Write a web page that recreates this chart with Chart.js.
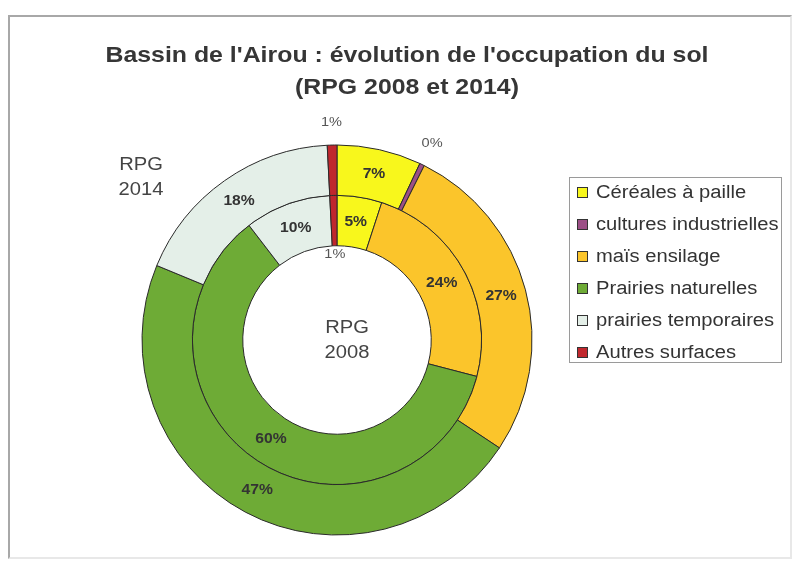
<!DOCTYPE html>
<html>
<head>
<meta charset="utf-8">
<script src="https://cdn.jsdelivr.net/npm/chart.js@4"></script>
<style>
  body { margin: 0; background: #fff; }
  #wrap { position: relative; width: 797px; height: 561px; overflow: hidden; font-family: "Liberation Sans", Arial, sans-serif; color: #333; }
  #frame { position: absolute; left: 8px; top: 15px; width: 780px; height: 540px; border: 2px solid #a8a8a8; border-right-color: #e8e8e8; border-bottom-color: #e8e8e8; }
  #chart { position: absolute; left: 0; top: 0; }
  .title { position: absolute; left: 107px; width: 600px; top: 39px; text-align: center; font-weight: bold; font-size: 22px; line-height: 32px; color: #363636; transform: scaleX(1.13); }
  .ring-name { position: absolute; width: 100px; text-align: center; font-size: 18px; line-height: 25px; color: #444; transform: scaleX(1.12); }
  #legend { position: absolute; left: 569px; top: 177px; width: 213px; height: 186px; border: 1px solid #9a9a9a; box-sizing: border-box; }
  #legend .rows { position: relative; top: -2px; }
  .lg-row { height: 32px; display: flex; align-items: center; padding-left: 7px; font-size: 18px; color: #333; white-space: nowrap; }
  .lg-box { width: 9px; height: 9px; border: 1px solid #333; margin-right: 8px; flex: none; }
  .lg-txt { display: inline-block; transform: scaleX(1.12); transform-origin: left center; }
</style>
</head>
<body>
<div id="wrap">
  <div id="frame"></div>
  <canvas id="chart" width="797" height="561"></canvas>
  <div class="title">Bassin de l'Airou : évolution de l'occupation du sol<br>(RPG 2008 et 2014)</div>
  <div class="ring-name" style="left:91px; top:152px;">RPG<br>2014</div>
  <div class="ring-name" style="left:297px; top:315px;">RPG<br>2008</div>
  <div id="legend"><div class="rows"></div></div>
</div>
<script>
const categories = ['Céréales à paille', 'cultures industrielles', 'maïs ensilage', 'Prairies naturelles', 'prairies temporaires', 'Autres surfaces'];
const values2014 = [7, 0.4, 27, 47, 18, 0.8];
const values2008 = [5, 0, 24, 60.4, 9.6, 0.8];
const colors = ['#f8f71c', '#9c4f86', '#fbc52b', '#6eab36', '#e4efe8', '#c0272d'];

// legend
const rowsEl = document.querySelector('#legend .rows');
categories.forEach((c, i) => {
  const row = document.createElement('div');
  row.className = 'lg-row';
  row.innerHTML = `<span class="lg-box" style="background:${colors[i]}"></span><span class="lg-txt">${c}</span>`;
  rowsEl.appendChild(row);
});

// percent labels on the rings (small slices go outside / into the hole)
const pctLabels = {
  id: 'pctLabels',
  afterDatasetsDraw(chart) {
    const ctx = chart.ctx;
    chart.data.datasets.forEach((ds, di) => {
      const meta = chart.getDatasetMeta(di);
      meta.data.forEach((arc, i) => {
        const v = ds.data[i];
        if (di === 1 && v === 0) return;
        const txt = Math.round(v) + '%';
        const a = (arc.startAngle + arc.endAngle) / 2;
        let r, font, col;
        if (v < 2) {
          r = di === 0 ? arc.outerRadius + 23 : arc.innerRadius - 9;
          font = '13px "Liberation Sans", Arial';
          col = '#555';
        } else {
          r = (arc.innerRadius + arc.outerRadius) / 2;
          font = 'bold 14px "Liberation Sans", Arial';
          col = '#333';
        }
        ctx.save();
        ctx.translate(arc.x + Math.cos(a) * r, arc.y + Math.sin(a) * r);
        ctx.scale(1.12, 1);
        ctx.textAlign = 'center';
        ctx.textBaseline = 'middle';
        ctx.font = font;
        ctx.fillStyle = col;
        ctx.fillText(txt, 0, 0);
        ctx.restore();
      });
    });
  }
};

new Chart(document.getElementById('chart'), {
  type: 'doughnut',
  data: {
    labels: categories,
    datasets: [
      { label: 'RPG 2014', data: values2014, backgroundColor: colors, borderColor: '#2a2a2a', borderWidth: 1 },
      { label: 'RPG 2008', data: values2008, backgroundColor: colors, borderColor: '#2a2a2a', borderWidth: 1 }
    ]
  },
  options: {
    responsive: false,
    animation: false,
    radius: 195,
    cutout: 94,
    layout: { padding: { left: 142, right: 265, top: 145, bottom: 26 } },
    plugins: {
      legend: { display: false },
      tooltip: { enabled: false },
      title: { display: false }
    }
  },
  plugins: [pctLabels]
});
</script>
</body>
</html>
